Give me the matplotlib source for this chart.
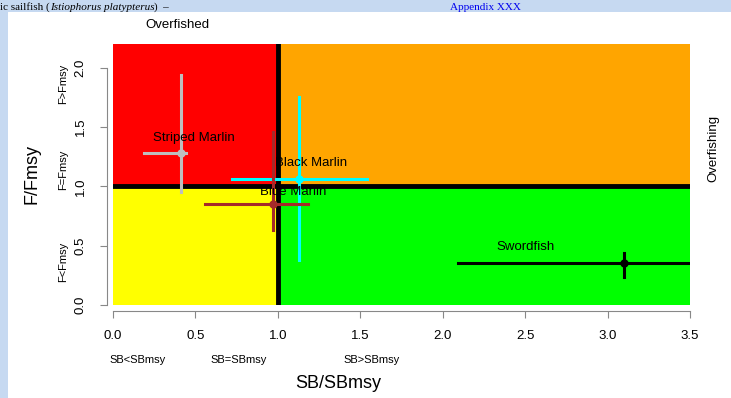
import matplotlib
matplotlib.use('Agg')
import matplotlib.pyplot as plt
from matplotlib.patches import Rectangle

# stock status estimates (SB/SBmsy, F/Fmsy) with ranges
species = ['Striped Marlin', 'Black Marlin', 'Blue Marlin', 'Swordfish']
colors = ['#bebebe', '#00ffff', '#a52a2a', '#000000']
sb = [0.41, 1.13, 0.97, 3.10]
sb_lo = [0.19, 0.72, 0.56, 2.09]
sb_hi = [0.44, 1.54, 1.18, 3.60]
f = [1.28, 1.06, 0.85, 0.35]
f_lo = [0.95, 0.38, 0.63, 0.24]
f_hi = [1.94, 1.75, 1.46, 0.44]
label_x = [0.49, 1.20, 1.09, 2.50]
label_y = [1.41, 1.20, 0.95, 0.49]

xticks = [0.0, 0.5, 1.0, 1.5, 2.0, 2.5, 3.0, 3.5]
yticks = [0.0, 0.5, 1.0, 1.5, 2.0]

fig = plt.figure(figsize=(7.31, 3.98), dpi=100)
fig.patch.set_facecolor('#c6d9f1')
# white page panel behind the chart
bg = fig.add_axes([8 / 731, 0, 1 - 8 / 731, 1 - 12 / 398], zorder=-1)
bg.set_facecolor('white')
bg.set_axis_off()
bg.add_patch(Rectangle((0, 0), 1, 1, transform=bg.transAxes, color='white'))

# caption strip of the surrounding page (chained so pieces do not overlap)
t1 = fig.text(0.0, 1 - 12 / 398, 'ic sailfish (', family='Liberation Serif', fontsize=8,
              va='bottom')
t2 = bg.annotate('Istiophorus platypterus', xy=(1, 0), xycoords=t1, va='bottom',
                 family='Liberation Serif', style='italic', fontsize=8)
t3 = bg.annotate(')  \u2013', xy=(1, 0), xycoords=t2, va='bottom',
                 family='Liberation Serif', fontsize=8)
fig.text(0.615, 1 - 12 / 398, 'Appendix XXX', family='Liberation Serif', fontsize=8,
         va='bottom', color='#0000ee')

ax = fig.add_axes([113 / 731, 1 - 305 / 398, 577 / 731, 261 / 398], zorder=1)
xmax, ymax = 3.5, 2.2
ax.add_patch(Rectangle((0, 1), 1, ymax - 1, color='#ff0000', zorder=0))
ax.add_patch(Rectangle((1, 1), xmax - 1, ymax - 1, color='#ffa500', zorder=0))
ax.add_patch(Rectangle((0, 0), 1, 1, color='#ffff00', zorder=0))
ax.add_patch(Rectangle((1, 0), xmax - 1, 1, color='#00ff00', zorder=0))
ax.axvline(1, color='black', lw=3.5, zorder=1)
ax.axhline(1, color='black', lw=3.5, zorder=1)

for i, name in enumerate(species):
    ax.plot([sb_lo[i], sb_hi[i]], [f[i], f[i]], color=colors[i], lw=2.2, zorder=2)
    ax.plot([sb[i], sb[i]], [f_lo[i], f_hi[i]], color=colors[i], lw=2.2, zorder=2)
    ax.plot(sb[i], f[i], 'o', color=colors[i], ms=5, zorder=3)
    ax.text(label_x[i], label_y[i], name, ha='center', va='center', fontsize=9.5,
            family='Liberation Sans', zorder=4)

ax.set_xlim(0, xmax)
ax.set_ylim(0, ymax)
for s in ['top', 'right']:
    ax.spines[s].set_visible(False)
ax.spines['left'].set_bounds(0, 2.0)
ax.spines['left'].set_position(('outward', 4))
ax.spines['bottom'].set_position(('outward', 4))
ax.spines['left'].set_color('#888888')
ax.spines['bottom'].set_color('#888888')
ax.set_xticks(xticks)
ax.set_yticks(yticks)
ax.set_xticklabels([f'{v:.1f}' for v in xticks], family='Liberation Sans', fontsize=9.5)
ax.set_yticklabels([f'{v:.1f}' for v in yticks], family='Liberation Sans', fontsize=9.5,
                   rotation=90, va='center')
ax.tick_params(direction='out', length=5, color='#888888')
ax.tick_params(axis='y', pad=10)
ax.tick_params(axis='x', pad=9)

ax.text(0.39, 2.36, 'Overfished', ha='center', va='center', fontsize=9.5,
        family='Liberation Sans', clip_on=False)
ax.text(1.04, 0.60, 'Overfishing', transform=ax.transAxes, rotation=90, ha='center',
        va='center', fontsize=9.5, family='Liberation Sans')

for txt, yv in [('F<Fmsy', 0.36), ('F=Fmsy', 1.14), ('F>Fmsy', 1.86)]:
    ax.text(-50 / 577, yv / ymax, txt, transform=ax.transAxes, rotation=90,
            ha='center', va='center', fontsize=8, family='Liberation Sans')
for txt, xv in [('SB<SBmsy', 0.15), ('SB=SBmsy', 0.76), ('SB>SBmsy', 1.57)]:
    ax.text(xv / xmax, -55 / 261, txt, transform=ax.transAxes, ha='center',
            va='center', fontsize=8, family='Liberation Sans')

ax.text(-81 / 577, 0.5, 'F/Fmsy', transform=ax.transAxes, rotation=90, ha='center',
        va='center', fontsize=13, family='Liberation Sans')
ax.text(0.39, -78 / 261, 'SB/SBmsy', transform=ax.transAxes, ha='center',
        va='center', fontsize=13, family='Liberation Sans')

fig.savefig('out.png', dpi=100, facecolor=fig.get_facecolor())
